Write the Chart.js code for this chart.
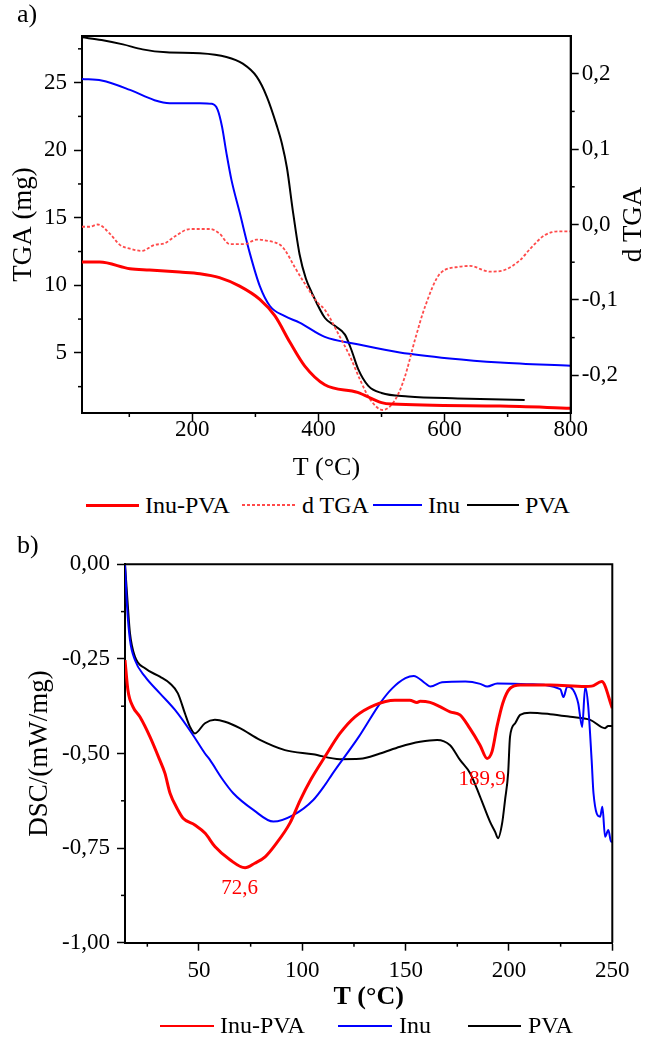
<!DOCTYPE html>
<html>
<head>
<meta charset="utf-8">
<script src="https://cdn.jsdelivr.net/npm/chart.js@4"></script>
<style>
  body { margin: 0; background: #fff; font-family: 'Liberation Serif', serif; }
  #page { position: relative; width: 650px; height: 1039px; overflow: hidden; }
  canvas { position: absolute; left: 0; }
  .tag { position: absolute; left: 17px; font-size: 26px; line-height: 26px; }
  .leg { position: absolute; font-size: 24px; line-height: 24px; white-space: nowrap; }
  .sw { position: absolute; }
</style>
</head>
<body>
<div id="page">
  <canvas id="tga" width="650" height="490" style="top:0"></canvas>
  <canvas id="dsc" width="650" height="495" style="top:520px"></canvas>

  <div class="tag" style="top:1px">a)</div>
  <div class="tag" style="top:532px">b)</div>

  <!-- legend a -->
  <div class="sw" style="left:86px;top:504px;width:53px;height:2.5px;background:#ff0000"></div>
  <div class="leg" style="left:145px;top:493px">Inu-PVA</div>
  <div class="sw" style="left:242px;top:504px;width:53px;height:2px;background:repeating-linear-gradient(to right,#ff4a4a 0 3px,transparent 3px 5px)"></div>
  <div class="leg" style="left:302px;top:493px">d TGA</div>
  <div class="sw" style="left:373px;top:504px;width:49px;height:2px;background:#0000ff"></div>
  <div class="leg" style="left:428px;top:493px">Inu</div>
  <div class="sw" style="left:467px;top:504px;width:52px;height:2px;background:#000"></div>
  <div class="leg" style="left:525px;top:493px">PVA</div>

  <!-- legend b -->
  <div class="sw" style="left:160px;top:1025px;width:54px;height:2px;background:#ff0000"></div>
  <div class="leg" style="left:220px;top:1013px">Inu-PVA</div>
  <div class="sw" style="left:338px;top:1025px;width:54px;height:2px;background:#0000ff"></div>
  <div class="leg" style="left:399px;top:1013px">Inu</div>
  <div class="sw" style="left:468px;top:1025px;width:53px;height:2px;background:#000"></div>
  <div class="leg" style="left:528px;top:1013px">PVA</div>
</div>

<script>
// a) TGA
var tgaT_InuPVA = [25, 53, 101, 132, 180, 212, 243, 275, 307, 331, 355, 378, 410, 462, 500, 516, 688, 800];
var tga_InuPVA  = [11.72, 11.72, 11.23, 11.13, 10.98, 10.86, 10.57, 9.94, 8.96, 7.73, 5.76, 4.04, 2.64, 2.08, 1.32, 1.21, 1.06, 0.9];

var dtgaT = [25, 37, 50, 69, 85, 101, 120, 140, 156, 172, 196, 212, 228, 243, 259, 283, 302, 315, 339, 347, 362, 378, 399, 410, 434, 450, 466, 482, 502, 522, 537, 553, 569, 593, 624, 640, 672, 696, 720, 736, 759, 783, 800];
var dtga  = [-0.003, -0.003, 0, -0.012, -0.027, -0.032, -0.035, -0.027, -0.025, -0.016, -0.006, -0.006, -0.006, -0.012, -0.026, -0.026, -0.020, -0.021, -0.027, -0.034, -0.056, -0.078, -0.104, -0.113, -0.149, -0.175, -0.206, -0.232, -0.246, -0.232, -0.202, -0.153, -0.109, -0.065, -0.056, -0.055, -0.0625, -0.060, -0.047, -0.032, -0.014, -0.009, -0.009];

var tgaT_Inu = [25, 56, 101, 140, 164, 212, 231, 240, 247, 254, 262, 275, 291, 307, 323, 346, 370, 410, 462, 529, 608, 688, 800];
var tga_Inu  = [25.27, 25.15, 24.46, 23.7, 23.48, 23.48, 23.43, 23.0, 21.75, 19.8, 17.8, 15.4, 12.4, 9.94, 8.47, 7.73, 7.24, 6.18, 5.64, 5.03, 4.59, 4.29, 4.04];

var tgaT_PVA = [25, 56, 90, 121, 159, 212, 254, 280, 302, 318, 334, 342, 350, 360, 370, 380, 389, 410, 426, 442, 452, 463, 479, 500, 542, 621, 727];
var tga_PVA  = [28.35, 28.15, 27.83, 27.46, 27.24, 27.17, 26.9, 26.4, 25.44, 23.97, 21.8, 20.5, 18.7, 15.3, 12.3, 10.5, 9.5, 7.6, 7.0, 6.35, 5.25, 3.8, 2.56, 2.03, 1.78, 1.63, 1.51];

var tgaTicksX = [200, 400, 600, 800];
var tgaMinorX = [100, 300, 500, 700];
var tgaTicksY = [5, 10, 15, 20, 25];
var tgaMinorY = [2.5, 7.5, 12.5, 17.5, 22.5, 27.5];
var dtgaTicks = [-0.2, -0.1, 0, 0.1, 0.2];
var dtgaMinor = [-0.15, -0.05, 0.05, 0.15];

// b) DSC
var dscT_InuPVA = [14.2, 15.6, 18, 21.4, 26.3, 31, 33.5, 36, 39.8, 42.3, 48, 53, 57.7, 65, 72.3, 77, 82, 86.8, 94, 99, 104, 111, 118.2, 125.5, 135, 144.8, 152, 155.5, 157, 161.8, 166.6, 171.5, 176.3, 181, 186, 189.4, 191.8, 194.2, 197, 200.5, 205.4, 220, 236.8, 240, 244.9, 250];
var dsc_InuPVA  = [-0.253, -0.332, -0.376, -0.403, -0.456, -0.517, -0.552, -0.605, -0.649, -0.671, -0.689, -0.711, -0.746, -0.781, -0.802, -0.79, -0.773, -0.742, -0.684, -0.623, -0.57, -0.508, -0.447, -0.403, -0.372, -0.359, -0.359, -0.365, -0.362, -0.365, -0.376, -0.39, -0.398, -0.433, -0.478, -0.513, -0.495, -0.429, -0.367, -0.328, -0.319, -0.319, -0.323, -0.322, -0.31, -0.38];

var dscT_Inu = [14.2, 15.2, 16.6, 19, 23.9, 31.1, 38.4, 46.6, 52.9, 55.3, 61.1, 66.6, 76.3, 86, 95.6, 105.3, 111, 114.4, 127.3, 137.8, 143.5, 149.9, 153.9, 159.6, 162, 167.6, 178.9, 186.1, 189.5, 194.3, 210.3, 224.8, 226.4, 228.2, 231.1, 233.5, 235.4, 236.9, 238.3, 240, 240.9, 244.1, 245.2, 246.5, 248.1, 249.4, 250];
var dsc_Inu  = [0, -0.112, -0.2, -0.253, -0.297, -0.341, -0.385, -0.447, -0.5, -0.517, -0.566, -0.605, -0.649, -0.68, -0.663, -0.623, -0.583, -0.555, -0.456, -0.366, -0.328, -0.301, -0.295, -0.315, -0.323, -0.312, -0.310, -0.316, -0.323, -0.315, -0.317, -0.33, -0.351, -0.323, -0.332, -0.367, -0.43, -0.324, -0.372, -0.517, -0.605, -0.667, -0.641, -0.72, -0.702, -0.733, -0.733];

var dscT_PVA = [14.2, 15.6, 16.6, 19, 23.9, 31.1, 36, 39.8, 43.2, 45.6, 48, 52.9, 57.7, 62.6, 69.8, 79.5, 91.6, 105.2, 118.2, 127.9, 137.6, 147.3, 157, 165.2, 171.5, 176.3, 181.2, 186, 190.8, 193.3, 194.7, 196.7, 198.1, 199.6, 200.5, 203, 205.4, 210.2, 219.9, 229.6, 239.3, 246.5, 248, 250];
var dsc_PVA  = [0, -0.112, -0.182, -0.244, -0.275, -0.297, -0.315, -0.341, -0.394, -0.429, -0.447, -0.42, -0.411, -0.416, -0.433, -0.464, -0.491, -0.502, -0.515, -0.514, -0.5, -0.482, -0.469, -0.464, -0.478, -0.517, -0.552, -0.614, -0.68, -0.707, -0.724, -0.684, -0.623, -0.552, -0.456, -0.42, -0.398, -0.392, -0.396, -0.403, -0.411, -0.433, -0.427, -0.427];

var dscTicksX = [50, 100, 150, 200, 250];
var dscMinorX = [25, 75, 125, 175, 225];
var dscTicksY = [0, -0.25, -0.5, -0.75, -1];
var dscMinorY = [-0.125, -0.375, -0.625, -0.875];

var peakT = [72.6, 189.9];
var peakVal = [-0.802, -0.513];
var peakLbl = ['72,6', '189,9'];

Chart.defaults.font.family = "'Liberation Serif', serif";
Chart.defaults.color = '#000';

function pts(xs, ys) {
  return xs.map(function (x, i) { return { x: x, y: ys[i] }; });
}
function fixTicks(vals) {
  return function (scale) { scale.ticks = vals.map(function (v) { return { value: v }; }); };
}
function comma(d) {
  return function (v) { return v.toFixed(d).replace('.', ','); };
}

// short minor ticks + top/right frame
var frameTicks = {
  id: 'frameTicks',
  afterDraw: function (chart, args, opts) {
    var ctx = chart.ctx;
    ctx.save();
    ctx.strokeStyle = '#000';
    ctx.lineWidth = 1.5;
    opts.list.forEach(function (m) {
      var sc = chart.scales[m.id];
      m.values.forEach(function (v) {
        var p = sc.getPixelForValue(v);
        ctx.beginPath();
        if (sc.position === 'bottom') { ctx.moveTo(p, sc.top); ctx.lineTo(p, sc.top + 4); }
        else if (sc.position === 'left') { ctx.moveTo(sc.right, p); ctx.lineTo(sc.right - 4, p); }
        else { ctx.moveTo(sc.left, p); ctx.lineTo(sc.left + 4, p); }
        ctx.stroke();
      });
    });
    var a = chart.chartArea;
    ctx.lineWidth = 2;
    ctx.beginPath();
    ctx.moveTo(a.left - 1, a.top);
    ctx.lineTo(a.right, a.top);
    ctx.lineTo(a.right, a.bottom);
    ctx.stroke();
    ctx.restore();
  }
};

// right axis title reads bottom to top, like the left one
var rightTitle = {
  id: 'rightTitle',
  afterDraw: function (chart, args, opts) {
    var sc = chart.scales.y1, ctx = chart.ctx;
    ctx.save();
    ctx.translate(641, (sc.top + sc.bottom) / 2);
    ctx.rotate(-Math.PI / 2);
    ctx.fillStyle = '#000';
    ctx.font = "27px 'Liberation Serif'";
    ctx.textAlign = 'center';
    ctx.textBaseline = 'alphabetic';
    ctx.fillText(opts.text, 0, 0);
    ctx.restore();
  }
};

var peakLabels = {
  id: 'peakLabels',
  afterDatasetsDraw: function (chart) {
    var ctx = chart.ctx, x = chart.scales.x, y = chart.scales.y;
    ctx.save();
    ctx.fillStyle = '#ff0000';
    ctx.font = "21px 'Liberation Serif'";
    ctx.textAlign = 'center';
    ctx.textBaseline = 'middle';
    for (var i = 0; i < peakT.length; i++) {
      ctx.fillText(peakLbl[i], x.getPixelForValue(peakT[i]) - 6, y.getPixelForValue(peakVal[i]) + 21);
    }
    ctx.restore();
  }
};

function axisGrid() {
  return { drawOnChartArea: false, tickLength: 8, color: '#000', tickWidth: 1.5 };
}
function axisBorder() {
  return { color: '#000', width: 2 };
}

new Chart(document.getElementById('tga'), {
  type: 'line',
  data: {
    datasets: [
      { label: 'Inu-PVA', data: pts(tgaT_InuPVA, tga_InuPVA), yAxisID: 'y', borderColor: '#ff0000', borderWidth: 3 },
      { label: 'd TGA', data: pts(dtgaT, dtga), yAxisID: 'y1', borderColor: '#ff4a4a', borderWidth: 1.8, borderDash: [3, 2] },
      { label: 'Inu', data: pts(tgaT_Inu, tga_Inu), yAxisID: 'y', borderColor: '#0000ff', borderWidth: 2 },
      { label: 'PVA', data: pts(tgaT_PVA, tga_PVA), yAxisID: 'y', borderColor: '#000000', borderWidth: 2 }
    ]
  },
  options: {
    responsive: false,
    animation: false,
    elements: { point: { radius: 0 }, line: { cubicInterpolationMode: 'monotone', fill: false } },
    layout: { padding: { top: 36, left: 0, right: 0, bottom: 0 } },
    plugins: {
      legend: { display: false },
      tooltip: { enabled: false },
      frameTicks: { list: [ { id: 'x', values: tgaMinorX }, { id: 'y', values: tgaMinorY }, { id: 'y1', values: dtgaMinor } ] },
      rightTitle: { text: 'd TGA' }
    },
    scales: {
      x: {
        type: 'linear', min: 25, max: 800,
        afterBuildTicks: fixTicks(tgaTicksX),
        afterFit: function (s) { s.height = 77; },
        border: axisBorder(), grid: axisGrid(),
        ticks: { font: { size: 23 }, padding: -5, maxRotation: 0 },
        title: { display: true, text: 'T (°C)', font: { size: 26 }, padding: { top: 0, bottom: 6 } }
      },
      y: {
        position: 'left', min: 0.55, max: 28.45,
        afterBuildTicks: fixTicks(tgaTicksY),
        afterFit: function (s) { s.width = 82; },
        border: axisBorder(), grid: axisGrid(),
        ticks: { font: { size: 23 }, padding: 7 },
        title: { display: true, text: 'TGA (mg)', font: { size: 27 }, padding: { top: 8, bottom: 0 } }
      },
      y1: {
        position: 'right', min: -0.25, max: 0.25,
        afterBuildTicks: fixTicks(dtgaTicks),
        afterFit: function (s) { s.width = 79.3; },
        border: axisBorder(), grid: axisGrid(),
        ticks: { font: { size: 23 }, padding: 3, callback: comma(1) },
        title: { display: false }
      }
    }
  },
  plugins: [frameTicks, rightTitle]
});

new Chart(document.getElementById('dsc'), {
  type: 'line',
  data: {
    datasets: [
      { label: 'Inu-PVA', data: pts(dscT_InuPVA, dsc_InuPVA), borderColor: '#ff0000', borderWidth: 3 },
      { label: 'Inu', data: pts(dscT_Inu, dsc_Inu), borderColor: '#0000ff', borderWidth: 2 },
      { label: 'PVA', data: pts(dscT_PVA, dsc_PVA), borderColor: '#000000', borderWidth: 2 }
    ]
  },
  options: {
    responsive: false,
    animation: false,
    elements: { point: { radius: 0 }, line: { cubicInterpolationMode: 'monotone', fill: false } },
    layout: { padding: { top: 44.3, left: 0, right: 37.7, bottom: 0 } },
    plugins: {
      legend: { display: false },
      tooltip: { enabled: false },
      frameTicks: { list: [ { id: 'x', values: dscMinorX }, { id: 'y', values: dscMinorY } ] }
    },
    scales: {
      x: {
        type: 'linear', min: 14.2, max: 250,
        afterBuildTicks: fixTicks(dscTicksX),
        afterFit: function (s) { s.height = 72.3; },
        border: axisBorder(), grid: axisGrid(),
        ticks: { font: { size: 23 }, padding: 6, maxRotation: 0 },
        title: { display: true, text: 'T (°C)', font: { size: 26, weight: 'bold' }, padding: { top: 0, bottom: 2 } }
      },
      y: {
        position: 'left', min: -1, max: 0,
        afterBuildTicks: fixTicks(dscTicksY),
        afterFit: function (s) { s.width = 125; },
        border: axisBorder(), grid: axisGrid(),
        ticks: { font: { size: 23 }, padding: 7, callback: comma(2) },
        title: { display: true, text: 'DSC/(mW/mg)', font: { size: 27 }, padding: { top: 24, bottom: 0 } }
      }
    }
  },
  plugins: [frameTicks, peakLabels]
});
</script>
</body>
</html>
